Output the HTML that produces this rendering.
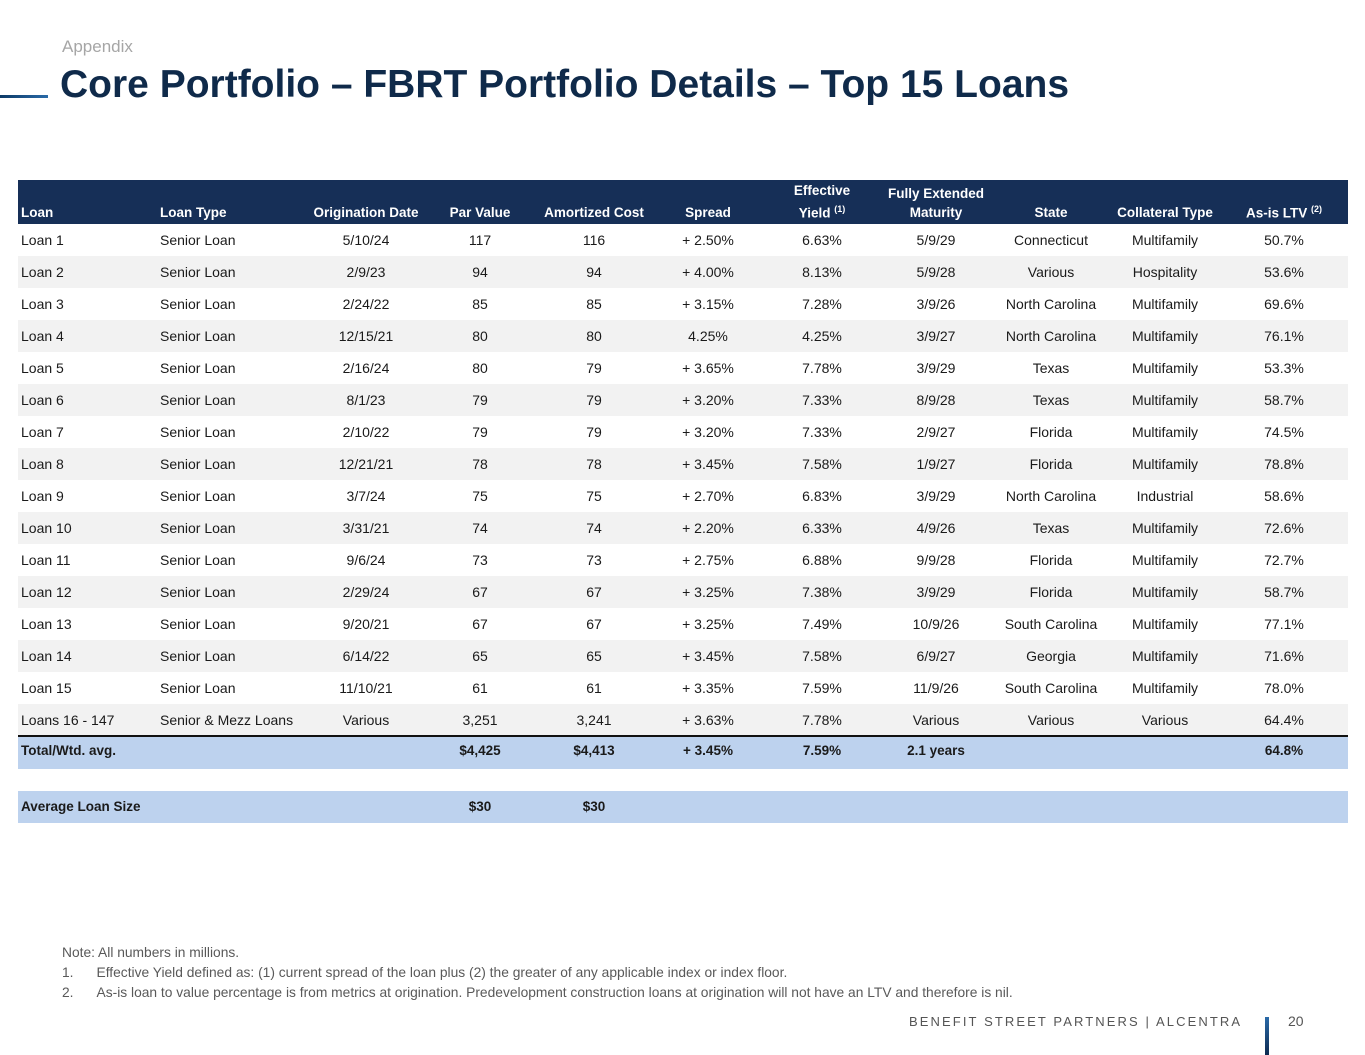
<!DOCTYPE html>
<html><head><meta charset="utf-8">
<style>
body{margin:0;width:1365px;height:1055px;background:#fff;position:relative;overflow:hidden;font-family:"Liberation Sans",sans-serif;}
.a{position:absolute;white-space:nowrap;}
.row{position:absolute;left:18px;width:1330px;height:32px;}
.cell{position:absolute;font-size:14px;color:#1a1a1a;line-height:32px;white-space:nowrap;}
.hd{position:absolute;font-size:13.5px;font-weight:bold;color:#fff;text-align:center;line-height:19px;white-space:nowrap;}
.b{font-weight:bold;font-size:13.5px;}
sup{font-size:9px;}
</style></head><body>
<div class="a" style="left:0;top:95px;width:48px;height:3px;background:linear-gradient(90deg,#0d3a66,#2a6aa8);"></div>
<div class="a" style="left:62px;top:37px;font-size:17px;color:#a6a6a6;">Appendix</div>
<div class="a" style="left:60px;top:63px;font-size:39px;font-weight:bold;color:#0f2a4a;">Core Portfolio – FBRT Portfolio Details – Top 15 Loans</div>

<div class="a" style="left:18px;top:180px;width:1330px;height:44px;background:#162f57;border-bottom:2px solid #111;"></div>
<div id="tbl"></div>

<div class="a" style="left:62px;top:945px;font-size:13.8px;color:#595959;">Note: All numbers in millions.</div>
<div class="a" style="left:62px;top:965px;font-size:13.8px;color:#595959;">1.&nbsp;&nbsp;&nbsp;&nbsp;&nbsp;&nbsp;Effective Yield defined as: (1) current spread of the loan plus (2) the greater of any applicable index or index floor.</div>
<div class="a" style="left:62px;top:985px;font-size:13.8px;color:#595959;">2.&nbsp;&nbsp;&nbsp;&nbsp;&nbsp;&nbsp;As-is loan to value percentage is from metrics at origination. Predevelopment construction loans at origination will not have an LTV and therefore is nil.</div>
<div class="a" style="left:909px;top:1014px;font-size:13px;letter-spacing:2.1px;color:#555;">BENEFIT STREET PARTNERS | ALCENTRA</div>
<div class="a" style="left:1265px;top:1017px;width:4px;height:38px;background:linear-gradient(#2a6aa8,#0d2a50);"></div>
<div class="a" style="left:1288px;top:1013px;font-size:14px;color:#555;">20</div>

<script>
const headers=["Loan","Loan Type","Origination Date","Par Value","Amortized Cost","Spread","Effective<br>Yield <sup>(1)</sup>","Fully Extended<br>Maturity","State","Collateral Type","As-is LTV <sup>(2)</sup>"];
const colX=[21,160,366,480,594,708,822,936,1051,1165,1284];
const rows=[
["Loan 1","Senior Loan","5/10/24","117","116","+ 2.50%","6.63%","5/9/29","Connecticut","Multifamily","50.7%"],
["Loan 2","Senior Loan","2/9/23","94","94","+ 4.00%","8.13%","5/9/28","Various","Hospitality","53.6%"],
["Loan 3","Senior Loan","2/24/22","85","85","+ 3.15%","7.28%","3/9/26","North Carolina","Multifamily","69.6%"],
["Loan 4","Senior Loan","12/15/21","80","80","4.25%","4.25%","3/9/27","North Carolina","Multifamily","76.1%"],
["Loan 5","Senior Loan","2/16/24","80","79","+ 3.65%","7.78%","3/9/29","Texas","Multifamily","53.3%"],
["Loan 6","Senior Loan","8/1/23","79","79","+ 3.20%","7.33%","8/9/28","Texas","Multifamily","58.7%"],
["Loan 7","Senior Loan","2/10/22","79","79","+ 3.20%","7.33%","2/9/27","Florida","Multifamily","74.5%"],
["Loan 8","Senior Loan","12/21/21","78","78","+ 3.45%","7.58%","1/9/27","Florida","Multifamily","78.8%"],
["Loan 9","Senior Loan","3/7/24","75","75","+ 2.70%","6.83%","3/9/29","North Carolina","Industrial","58.6%"],
["Loan 10","Senior Loan","3/31/21","74","74","+ 2.20%","6.33%","4/9/26","Texas","Multifamily","72.6%"],
["Loan 11","Senior Loan","9/6/24","73","73","+ 2.75%","6.88%","9/9/28","Florida","Multifamily","72.7%"],
["Loan 12","Senior Loan","2/29/24","67","67","+ 3.25%","7.38%","3/9/29","Florida","Multifamily","58.7%"],
["Loan 13","Senior Loan","9/20/21","67","67","+ 3.25%","7.49%","10/9/26","South Carolina","Multifamily","77.1%"],
["Loan 14","Senior Loan","6/14/22","65","65","+ 3.45%","7.58%","6/9/27","Georgia","Multifamily","71.6%"],
["Loan 15","Senior Loan","11/10/21","61","61","+ 3.35%","7.59%","11/9/26","South Carolina","Multifamily","78.0%"],
["Loans 16 - 147","Senior & Mezz Loans","Various","3,251","3,241","+ 3.63%","7.78%","Various","Various","Various","64.4%"]
];
const totalRow=["Total/Wtd. avg.","","","$4,425","$4,413","+ 3.45%","7.59%","2.1 years","","","64.8%"];
const avgRow=["Average Loan Size","","","$30","$30","","","","","",""];
const tbl=document.getElementById('tbl');
headers.forEach((h,i)=>{
  const d=document.createElement('div');
  
  
  d.className='hd';
  d.innerHTML=h;
  d.style.left=colX[i]+'px';
  d.style.bottom=(1055-222)+'px';
  if(i>=2) d.style.transform='translateX(-50%)';
  document.body.appendChild(d);
});
function addRow(vals,top,bg,bold,name){
  const r=document.createElement('div');
  
  
  r.className='row';r.style.top=top+'px';r.style.background=bg;
  if(name==='total-row') r.style.borderTop='2px solid #111';
  vals.forEach((v,i)=>{
    if(!v) return;
    const c=document.createElement('div');
    
    
    c.className='cell'+(bold?' b':'');
    c.textContent=v;
    c.style.left=(colX[i]-18)+'px';
    if(name==='total-row') c.style.top='-2px';
    if(i>=2) c.style.transform='translateX(-50%)';
    r.appendChild(c);
  });
  tbl.appendChild(r);
}
rows.forEach((row,k)=>addRow(row,224+k*32,k%2?'#f2f2f2':'#fff',false,'loan-row'));
addRow(totalRow,735,'#bdd2ee',true,'total-row');
addRow(avgRow,791,'#bdd2ee',true,'average-loan-size-row');
</script>
</body></html>
